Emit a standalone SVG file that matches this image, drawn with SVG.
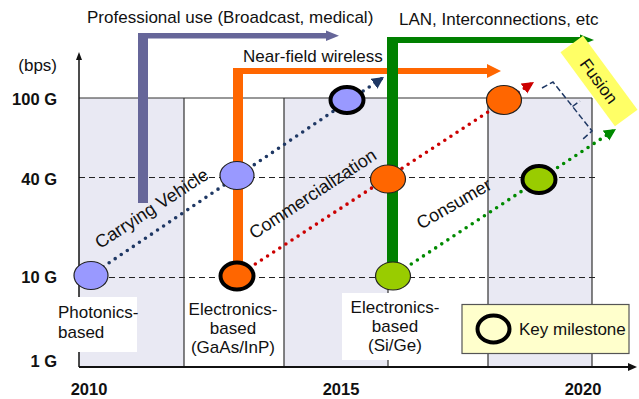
<svg xmlns="http://www.w3.org/2000/svg" width="639" height="399" viewBox="0 0 639 399">
  <style>
    text { font-family: "Liberation Sans", Arial, sans-serif; fill: #111; }
    .lbl { font-size: 17px; }
    .ax { font-size: 16.5px; font-weight: bold; }
    .rot { font-size: 18px; }
    .grid { stroke: #333; stroke-width: 1.2; fill: none; }
    .dash { stroke: #222; stroke-width: 1.2; stroke-dasharray: 6 4; fill: none; }
    .shade { fill: #e9e9f3; }
    .dot { fill: none; stroke-width: 3.6; stroke-linecap: round; stroke-dasharray: 0 7.3; }
    .node { stroke: #222; stroke-width: 1.2; }
    .key { stroke: #000; stroke-width: 4; }
    .purple { fill: #9999ff; }
    .orange { fill: #ff6600; }
    .lime { fill: #99cc00; }
  </style>
  <defs>
    <marker id="arrNavy" markerUnits="userSpaceOnUse" markerWidth="14" markerHeight="14" refX="12" refY="6" orient="auto">
      <path d="M0,0 L12,6 L0,12 Z" fill="#1f3864"/>
    </marker>
    <marker id="arrRed" markerUnits="userSpaceOnUse" markerWidth="14" markerHeight="14" refX="12" refY="6" orient="auto">
      <path d="M0,0 L12,6 L0,12 Z" fill="#cc0000"/>
    </marker>
    <marker id="arrGreen" markerUnits="userSpaceOnUse" markerWidth="14" markerHeight="14" refX="12" refY="6" orient="auto">
      <path d="M0,0 L12,6 L0,12 Z" fill="#008a00"/>
    </marker>
  </defs>

  <rect width="639" height="399" fill="#fff"/>

  <!-- chart background bands -->
  <g id="bands">
    <rect class="shade" x="79" y="98" width="105" height="269"/>
    <rect class="shade" x="284" y="98" width="104" height="269"/>
    <rect class="shade" x="488" y="98" width="104" height="269"/>
  </g>

  <!-- grid -->
  <g id="grid">
    <path class="grid" d="M79,98 H592 M184,98 V367 M284,98 V367 M388,98 V367 M488,98 V367 M592,98 V367"/>
    <path class="dash" d="M79,177.5 H598 M79,277.5 H598"/>
  </g>

  <!-- axes -->
  <g id="axes">
    <path d="M79,367 V58" stroke="#111" stroke-width="1.5" fill="none"/>
    <path d="M76,60 L79,52 L82,60 Z" fill="#111"/>
    <path d="M79,367 H630" stroke="#111" stroke-width="1.8" fill="none"/>
    <path d="M628,363 L637,367 L628,371 Z" fill="#111"/>
  </g>

  <!-- label backgrounds -->
  <g id="label-bg" fill="#fff">
    <rect x="55" y="297" width="82" height="55"/>
    <rect x="342" y="293" width="101" height="67"/>
  </g>

  <!-- application bars -->
  <g id="bar-professional" fill="#666699">
    <rect x="138" y="33" width="10" height="170"/>
    <rect x="138" y="33" width="190" height="5.5"/>
    <path d="M326,30.5 L339,35.8 L326,41 Z"/>
  </g>
  <g id="bar-nearfield" fill="#ff6600">
    <rect x="233" y="68" width="10" height="195"/>
    <rect x="233" y="68" width="256" height="6"/>
    <path d="M487,64 L501,71 L487,78 Z"/>
  </g>
  <g id="bar-lan" fill="#008000">
    <rect x="387" y="37" width="11" height="226"/>
    <rect x="387" y="37" width="195" height="6"/>
    <path d="M580,34.5 L594,40 L580,45.5 Z"/>
  </g>

  <!-- connectors -->
  <g id="connectors">
    <path class="dot" stroke="#1f3864" d="M91,275 L384,77" marker-end="url(#arrNavy)"/>
    <path class="dot" stroke="#cc0000" d="M237,276 L534,82" marker-end="url(#arrRed)"/>
    <path class="dot" stroke="#008a00" d="M393,276 L616,129" marker-end="url(#arrGreen)"/>
    <path d="M542,88 L553,82 L592,131 L583,139 M572.5,106.5 L580,101" fill="none" stroke="#1f3864" stroke-width="1.5" stroke-dasharray="6 3"/>
  </g>

  <!-- nodes -->
  <g id="node-photonics-10g"><ellipse class="node purple" cx="91" cy="275.5" rx="17" ry="14"/></g>
  <g id="node-photonics-40g"><ellipse class="node purple" cx="237" cy="175.5" rx="17" ry="14"/></g>
  <g id="node-photonics-100g"><ellipse class="key purple" cx="347" cy="100" rx="16.5" ry="13"/></g>
  <g id="node-gaas-10g"><ellipse class="key orange" cx="237" cy="276" rx="16.5" ry="13.5"/></g>
  <g id="node-gaas-40g"><ellipse class="node orange" cx="388" cy="179" rx="17.5" ry="14"/></g>
  <g id="node-gaas-100g"><ellipse class="node orange" cx="504" cy="100" rx="17.5" ry="14.5"/></g>
  <g id="node-sige-10g"><ellipse class="node lime" cx="393" cy="276" rx="17.5" ry="14"/></g>
  <g id="node-sige-40g"><ellipse class="key lime" cx="539" cy="179.5" rx="16.5" ry="13.5"/></g>

  <!-- axis labels -->
  <g id="axis-labels">
    <text class="lbl" x="57" y="71" text-anchor="end">(bps)</text>
    <text class="ax" x="57" y="105" text-anchor="end">100 G</text>
    <text class="ax" x="57" y="185" text-anchor="end">40 G</text>
    <text class="ax" x="57" y="283" text-anchor="end">10 G</text>
    <text class="ax" x="57" y="367" text-anchor="end">1 G</text>
    <text class="ax" x="89" y="395" text-anchor="middle">2010</text>
    <text class="ax" x="341" y="395" text-anchor="middle">2015</text>
    <text class="ax" x="583" y="395" text-anchor="middle">2020</text>
  </g>

  <!-- bar labels -->
  <g id="bar-labels">
    <text class="lbl" x="87" y="22.5">Professional use (Broadcast, medical)</text>
    <text class="lbl" x="243" y="62">Near-field wireless</text>
    <text class="lbl" x="399" y="24.5">LAN, Interconnections, etc</text>
  </g>

  <!-- technology labels -->
  <g id="tech-labels">
    <text class="lbl" x="58" y="318">Photonics-</text>
    <text class="lbl" x="58" y="338">based</text>
    <text class="lbl" text-anchor="middle" x="233" y="315">Electronics-</text>
    <text class="lbl" text-anchor="middle" x="233" y="334">based</text>
    <text class="lbl" text-anchor="middle" x="233" y="353">(GaAs/InP)</text>
    <text class="lbl" text-anchor="middle" x="395" y="313">Electronics-</text>
    <text class="lbl" text-anchor="middle" x="395" y="332">based</text>
    <text class="lbl" text-anchor="middle" x="395" y="351">(Si/Ge)</text>
  </g>

  <!-- trend labels -->
  <g id="trend-labels">
    <text class="rot" text-anchor="middle" transform="translate(155,213.5) rotate(-33)">Carrying Vehicle</text>
    <text class="rot" text-anchor="middle" transform="translate(316,199) rotate(-33.3)">Commercialization</text>
    <text class="rot" text-anchor="middle" transform="translate(457,209) rotate(-30)">Consumer</text>
  </g>

  <!-- fusion tag -->
  <g id="fusion" transform="translate(599,81) rotate(53.7)">
    <rect x="-46" y="-14" width="92" height="28" fill="#ffff66"/>
    <text class="lbl" text-anchor="middle" x="0" y="6">Fusion</text>
  </g>

  <!-- legend -->
  <g id="legend">
    <rect x="462" y="304.5" width="167" height="49" fill="#ffffcc" stroke="#555" stroke-width="1.2"/>
    <ellipse cx="493.5" cy="329" rx="16" ry="13.5" fill="none" stroke="#000" stroke-width="4"/>
    <text class="lbl" x="519" y="335">Key milestone</text>
  </g>
</svg>
